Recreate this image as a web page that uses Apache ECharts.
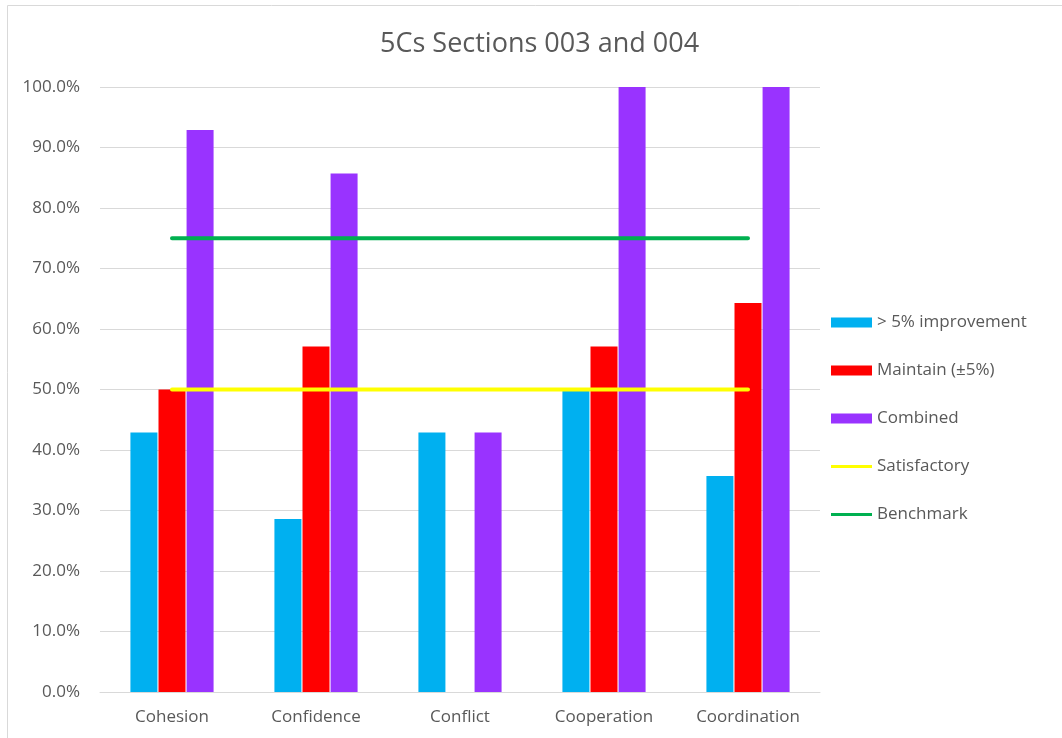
<!DOCTYPE html>
<html>
<head>
<meta charset="utf-8">
<script src="https://cdn.jsdelivr.net/npm/echarts@6/dist/echarts.min.js"></script>
<style>
  html, body { margin: 0; padding: 0; background: #fff; }
  #chart { width: 1062px; height: 738px; }
</style>
</head>
<body>
<div id="chart"></div>
<script>
// 5Cs survey results for sections 003 and 004 (percent of students)
const categories = ['Cohesion', 'Confidence', 'Conflict', 'Cooperation', 'Coordination'];
const improvement = [42.9, 28.6, 42.9, 50.0, 35.7];
const maintain = [50.0, 57.1, 0, 57.1, 64.3];
const combined = [92.9, 85.7, 42.9, 100.0, 100.0];
const satisfactory = [50, 50, 50, 50, 50];
const benchmark = [75, 75, 75, 75, 75];

const FONT = '"Open Sans", "Noto Sans", sans-serif';
const TEXT = '#595959';
// thin horizontal stroke used as the legend key for the reference lines
const LINE_ICON = 'path://M0,0 M0,3.5 L41,3.5 L41,6.5 L0,6.5 Z M41,10';

const chart = echarts.init(document.getElementById('chart'));
chart.setOption({
  animation: false,
  textStyle: { fontFamily: FONT },
  graphic: [{
    type: 'rect',
    shape: { x: 7.5, y: 5.5, width: 1100, height: 800 },
    style: { fill: 'none', stroke: '#d9d9d9', lineWidth: 1 },
    silent: true
  }],
  title: {
    text: '5Cs Sections 003 and 004',
    left: 375,
    top: 26,
    textStyle: { fontFamily: FONT, fontSize: 27, fontWeight: 'normal', color: TEXT }
  },
  grid: { left: 100, right: 242, top: 87, bottom: 46, containLabel: false },
  legend: {
    orient: 'vertical',
    left: 826,
    top: 309,
    itemWidth: 41,
    itemHeight: 10,
    itemGap: 31,
    textStyle: { fontFamily: FONT, fontSize: 17, color: TEXT },
    data: [
      { name: '> 5% improvement', icon: 'rect' },
      { name: 'Maintain (±5%)', icon: 'rect' },
      { name: 'Combined', icon: 'rect' },
      { name: 'Satisfactory', icon: LINE_ICON },
      { name: 'Benchmark', icon: LINE_ICON }
    ]
  },
  xAxis: {
    type: 'category',
    data: categories,
    axisTick: { show: false },
    axisLine: { lineStyle: { color: '#d9d9d9', width: 1 } },
    axisLabel: { color: TEXT, fontSize: 17, fontFamily: FONT, margin: 17 }
  },
  yAxis: {
    type: 'value',
    min: 0,
    max: 100,
    interval: 10,
    axisLine: { show: false },
    axisTick: { show: false },
    splitLine: { lineStyle: { color: '#d9d9d9', width: 1 } },
    axisLabel: {
      color: TEXT, fontSize: 17, fontFamily: FONT, margin: 20,
      formatter: v => v.toFixed(1) + '%'
    }
  },
  series: [
    {
      name: '> 5% improvement', type: 'bar', data: improvement,
      barWidth: 27, barGap: '4%',
      itemStyle: { color: '#00B0F0' }
    },
    {
      name: 'Maintain (±5%)', type: 'bar', data: maintain,
      barWidth: 27, barGap: '4%',
      itemStyle: { color: '#FF0000' }
    },
    {
      name: 'Combined', type: 'bar', data: combined,
      barWidth: 27, barGap: '4%',
      itemStyle: { color: '#9933FF' }
    },
    {
      name: 'Satisfactory', type: 'line', data: satisfactory,
      symbol: 'none',
      lineStyle: { color: '#FFFF00', width: 4, cap: 'round' },
      itemStyle: { color: '#FFFF00' }
    },
    {
      name: 'Benchmark', type: 'line', data: benchmark,
      symbol: 'none',
      lineStyle: { color: '#00B050', width: 4, cap: 'round' },
      itemStyle: { color: '#00B050' }
    }
  ]
});
</script>
</body>
</html>
